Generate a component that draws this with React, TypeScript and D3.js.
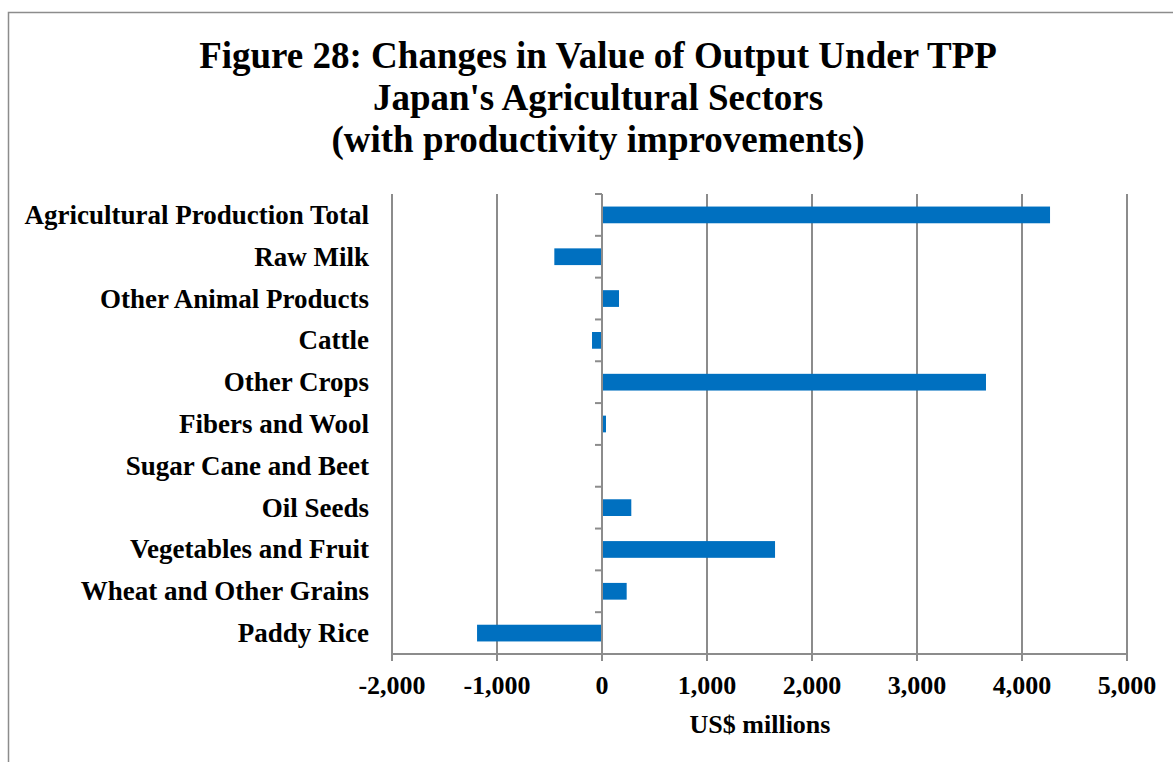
import React from "react";
import * as d3 from "d3";

const categories = [
  "Agricultural Production Total",
  "Raw Milk",
  "Other Animal Products",
  "Cattle",
  "Other Crops",
  "Fibers and Wool",
  "Sugar Cane and Beet",
  "Oil Seeds",
  "Vegetables and Fruit",
  "Wheat and Other Grains",
  "Paddy Rice",
];
const values = [4267, -454, 162, -95, 3657, 38, 0, 279, 1648, 235, -1190];
const xTicks = [-2000, -1000, 0, 1000, 2000, 3000, 4000, 5000];
const titleLines = [
  "Figure 28: Changes in Value of Output Under TPP",
  "Japan's Agricultural Sectors",
  "(with productivity improvements)",
];
const xAxisTitle = "US$ millions";

const W = 1173;
const H = 762;
const FONT = "'Liberation Serif', 'Times New Roman', serif";

export default function App() {
  const left = 392;
  const right = 1127;
  const top = 194;
  const bottom = 654;
  const x = d3.scaleLinear().domain([-2000, 5000]).range([left, right]);
  const y = d3.scaleBand<string>().domain(categories).range([top, bottom]).paddingInner(0.6).paddingOuter(0.3);
  const yb = d3.scaleBand<string>().domain(categories).range([top, bottom]);
  const fmt = (v: number) => d3.format(",")(v).replace("\u2212", "-");
  const grid = "#8c8c8c";
  return (
    <svg
      width={W}
      height={H}
      style={{ position: "absolute", left: 0, top: 0, display: "block" }}
      fontFamily={FONT}
    >
      <rect x={0} y={0} width={W} height={H} fill="#fff" />
      <rect x={8.5} y={12.5} width={W + 20} height={H + 20} fill="none" stroke="#8c8c8c" strokeWidth={1.5} />
      {titleLines.map((t, i) => (
        <text key={t} x={598} y={68 + i * 42} textAnchor="middle" fontSize={37} fontWeight="bold" fill="#000">
          {t}
        </text>
      ))}
      {xTicks.map((t) => (
        <g key={t}>
          {t !== 0 && <line x1={x(t)} x2={x(t)} y1={top} y2={bottom} stroke={grid} strokeWidth={2} />}
          <line x1={x(t)} x2={x(t)} y1={bottom} y2={bottom + 7} stroke={grid} strokeWidth={2} />
          <text x={x(t)} y={694} textAnchor="middle" fontSize={26} fontWeight="bold" fill="#000">
            {fmt(t)}
          </text>
        </g>
      ))}
      <line x1={left} x2={right} y1={bottom} y2={bottom} stroke={grid} strokeWidth={2} />
      {categories.map((c) => (
        <line key={"tk" + c} x1={x(0) - 7} x2={x(0)} y1={yb(c)!} y2={yb(c)!} stroke={grid} strokeWidth={2} />
      ))}
      {categories.map((c, i) => (
        <rect
          key={"b" + c}
          x={x(Math.min(0, values[i]))}
          y={y(c)!}
          width={Math.abs(x(values[i]) - x(0))}
          height={y.bandwidth()}
          fill="#0070C0"
        />
      ))}
      <line x1={x(0)} x2={x(0)} y1={top} y2={bottom + 7} stroke={grid} strokeWidth={2} />
      {categories.map((c) => (
        <text
          key={"l" + c}
          x={369}
          y={yb(c)! + yb.bandwidth() / 2 + 9}
          textAnchor="end"
          fontSize={27}
          fontWeight="bold"
          fill="#000"
        >
          {c}
        </text>
      ))}
      <text x={760} y={733} textAnchor="middle" fontSize={26} fontWeight="bold" fill="#000">
        {xAxisTitle}
      </text>
    </svg>
  );
}
